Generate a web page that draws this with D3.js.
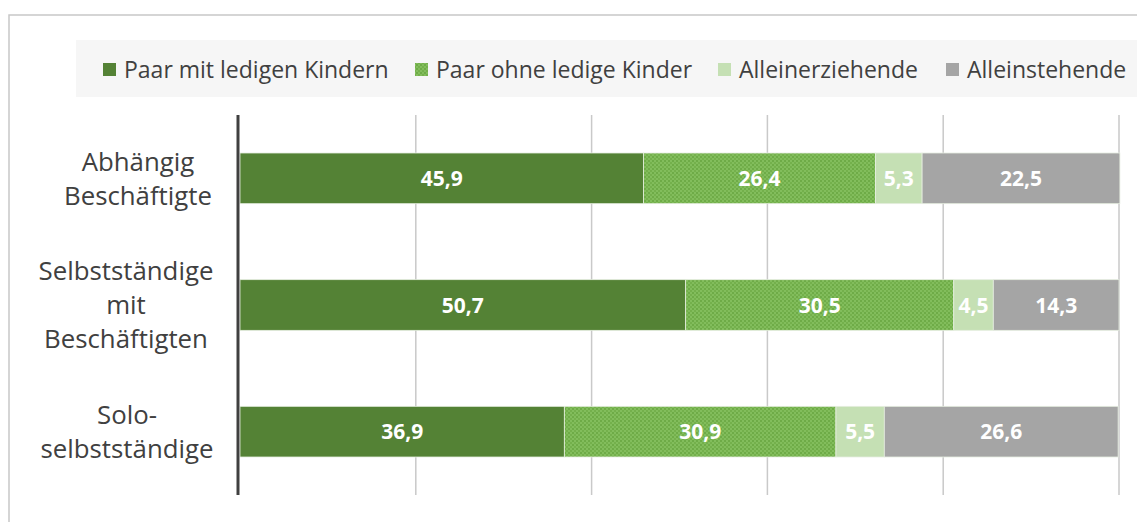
<!DOCTYPE html>
<html><head><meta charset="utf-8">
<script src="https://cdn.jsdelivr.net/npm/d3@7"></script>
<style>body{margin:0;background:#fff;}svg{display:block;font-family:"Open Sans",sans-serif;}</style>
</head><body>
<script>
const categories = [["Abhängig","Beschäftigte"],["Selbstständige","mit","Beschäftigten"],["Solo-","selbstständige"]];
const categoryKeys = ["Abhängig Beschäftigte","Selbstständige mit Beschäftigten","Solo-selbstständige"];
const seriesNames = ["Paar mit ledigen Kindern","Paar ohne ledige Kinder","Alleinerziehende","Alleinstehende"];
const paarMit = [45.9, 50.7, 36.9];
const paarOhne = [26.4, 30.5, 30.9];
const alleinerziehende = [5.3, 4.5, 5.5];
const alleinstehende = [22.5, 14.3, 26.6];
const xTicks = [0,20,40,60,80,100];
const colors = ["#548235","url(#dots)","#c5e0b4","#a5a5a5"];

const W=1137,H=522;
const labelCx=[138,126,127];
const svg=d3.select("body").append("svg").attr("width",W).attr("height",H);
const defs=svg.append("defs");
const pat=defs.append("pattern").attr("id","dots").attr("patternUnits","userSpaceOnUse").attr("width",4).attr("height",4);
pat.append("rect").attr("width",4).attr("height",4).attr("fill","#82bd5c");
pat.append("rect").attr("x",0).attr("y",0).attr("width",2).attr("height",2).attr("fill","#6eab47");
pat.append("rect").attr("x",2).attr("y",2).attr("width",2).attr("height",2).attr("fill","#74b04c");

// outer frame
svg.append("rect").attr("x",9).attr("y",15).attr("width",W).attr("height",H).attr("fill","none").attr("stroke","#c8c8c8").attr("stroke-width",1.5);
// legend bg
svg.append("rect").attr("x",76).attr("y",40).attr("width",W-76).attr("height",57).attr("fill","#f6f6f6");

const data = categoryKeys.map((k,i)=>({key:k,lines:categories[i],vals:[paarMit[i],paarOhne[i],alleinerziehende[i],alleinstehende[i]]}));

const x=d3.scaleLinear().domain([0,100]).range([240,1119]);
const y=d3.scaleBand().domain(categoryKeys).range([115,495]).paddingInner(0.6).paddingOuter(0.3);

// gridlines
svg.append("g").selectAll("line").data(xTicks.slice(1)).join("line")
 .attr("x1",d=>x(d)).attr("x2",d=>x(d)).attr("y1",115).attr("y2",495)
 .attr("stroke","#c9c9c9").attr("stroke-width",1.5);

// bars
data.forEach(d=>{
  let cum=0;
  const g=svg.append("g");
  d.vals.forEach((v,j)=>{
    const x0=x(cum), x1=x(Math.min(cum+v,100.1));
    g.append("rect").attr("x",x0).attr("y",y(d.key)).attr("width",x1-x0).attr("height",y.bandwidth())
     .attr("fill",colors[j]).attr("stroke","#e6eee0").attr("stroke-width",0.8);
    g.append("text").attr("x",(x0+x1)/2).attr("y",y(d.key)+y.bandwidth()/2).attr("dy","0.36em")
     .attr("text-anchor","middle").attr("fill","#fff").attr("font-weight","bold").attr("font-size",21)
     .text(String(v).replace(".",","));
    cum+=v;
  });
});

// axis line
svg.append("line").attr("x1",238).attr("x2",238).attr("y1",115).attr("y2",495).attr("stroke","#404040").attr("stroke-width",3);

// category labels
data.forEach((d,i)=>{
  const cy=y(d.key)+y.bandwidth()/2;
  const n=d.lines.length, lh=34;
  const t=svg.append("text").attr("text-anchor","middle").attr("fill","#404040").attr("font-size",25.8);
  d.lines.forEach((l,k)=>{
    t.append("tspan").attr("x",labelCx[i]).attr("y",cy+(k-(n-1)/2)*lh).attr("dy","0.36em").text(l);
  });
});

// legend
const legX=[103,415,718,946];
const lg=svg.append("g");
seriesNames.forEach((s,i)=>{
  lg.append("rect").attr("x",legX[i]).attr("y",63).attr("width",13).attr("height",13).attr("fill",colors[i]);
  lg.append("text").attr("x",legX[i]+21).attr("y",70).attr("dy","0.36em").attr("font-size",23).attr("fill","#404040").text(s);
});
</script>
</body></html>
